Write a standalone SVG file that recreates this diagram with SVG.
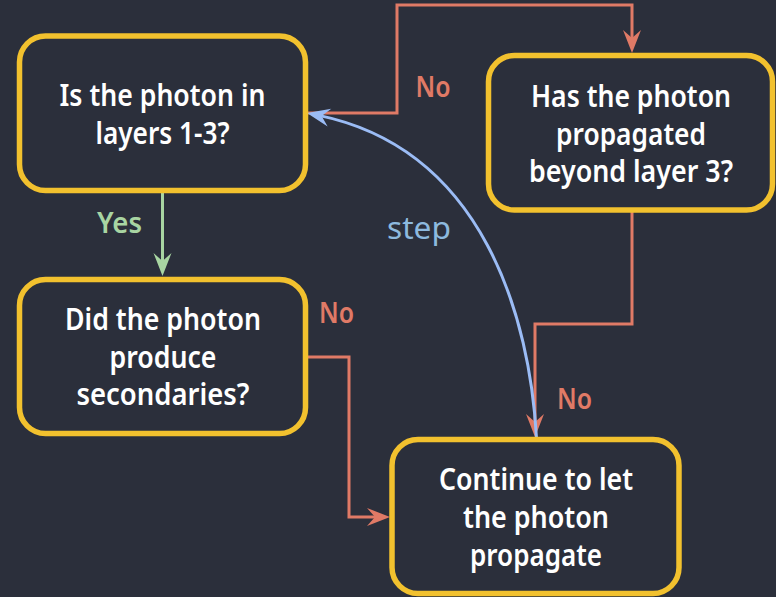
<svg xmlns="http://www.w3.org/2000/svg" width="776" height="597" viewBox="0 0 776 597">
<defs>
<style>
.bg{fill:#2b2f3b}
.box{fill:#2b2f3b;stroke:#f2c12e;stroke-width:5.5}
.t{font-family:"Noto Sans","Open Sans","DejaVu Sans",sans-serif;font-weight:600;font-size:30px;fill:#ffffff;text-anchor:middle}
.lbl{font-family:"Noto Sans","Open Sans","DejaVu Sans",sans-serif;font-weight:600;font-size:29px;text-anchor:middle}
.red{fill:none;stroke:#e07a66;stroke-width:3}
.green{fill:none;stroke:#a8d5a2;stroke-width:3}
.blue{fill:none;stroke:#9bbcf5;stroke-width:3}
</style>
<marker id="ar" viewBox="-24 -10 26 20" markerUnits="userSpaceOnUse" markerWidth="26" markerHeight="20" refX="-12" refY="0" orient="auto">
<path d="M0,0 L-23,-9 L-15,0 L-23,9 Z" fill="#e07a66"/>
</marker>
<marker id="ag" viewBox="-24 -10 26 20" markerUnits="userSpaceOnUse" markerWidth="26" markerHeight="20" refX="-12" refY="0" orient="auto">
<path d="M0,0 L-23,-9 L-15,0 L-23,9 Z" fill="#a8d5a2"/>
</marker>
<marker id="ab" viewBox="-24 -10 26 20" markerUnits="userSpaceOnUse" markerWidth="26" markerHeight="20" refX="-12" refY="0" orient="auto">
<path d="M0,0 L-23,-9 L-15,0 L-23,9 Z" fill="#9bbcf5"/>
</marker>
</defs>
<rect class="bg" x="0" y="0" width="776" height="597"/>

<g id="connectors">
<path class="red" d="M306,113 H397 V5 H632 V41" marker-end="url(#ar)"/>
<path class="red" d="M632,210 V324 H535 V425" marker-end="url(#ar)"/>
<path class="red" d="M306,357 H349 V517 H378" marker-end="url(#ar)"/>
<path class="green" d="M162.5,190 V264" marker-end="url(#ag)"/>
<path class="blue" d="M536.5,438 C530,320 485,150 318.7,115.4" marker-end="url(#ab)"/>
</g>

<g id="labels">
<text class="lbl" x="433" y="97" fill="#e07a66" textLength="35" lengthAdjust="spacingAndGlyphs">No</text>
<text class="lbl" x="119.5" y="233" fill="#a8d5a2" textLength="45" lengthAdjust="spacingAndGlyphs">Yes</text>
<text x="419" y="239" font-family="Noto Sans, Open Sans, DejaVu Sans, sans-serif" font-size="31" font-weight="400" fill="#8db9de" text-anchor="middle" textLength="64" lengthAdjust="spacingAndGlyphs">step</text>
<text class="lbl" x="336.5" y="323" fill="#e07a66" textLength="35" lengthAdjust="spacingAndGlyphs">No</text>
<text class="lbl" x="574.5" y="409" fill="#e07a66" textLength="35" lengthAdjust="spacingAndGlyphs">No</text>
</g>

<g id="n1">
<rect class="box" x="19.5" y="36" width="286" height="154.5" rx="26"/>
<text class="t" x="162.5" y="106" textLength="206" lengthAdjust="spacingAndGlyphs">Is the photon in</text>
<text class="t" x="162.5" y="144" textLength="134" lengthAdjust="spacingAndGlyphs">layers 1-3?</text>
</g>

<g id="n2">
<rect class="box" x="488.5" y="55.5" width="284" height="154.5" rx="26"/>
<text class="t" x="631" y="107" textLength="200" lengthAdjust="spacingAndGlyphs">Has the photon</text>
<text class="t" x="631" y="144.5" textLength="150" lengthAdjust="spacingAndGlyphs">propagated</text>
<text class="t" x="631" y="182" textLength="204" lengthAdjust="spacingAndGlyphs">beyond layer 3?</text>
</g>

<g id="n3">
<rect class="box" x="19.5" y="279.5" width="286" height="154" rx="26"/>
<text class="t" x="163" y="330" textLength="196" lengthAdjust="spacingAndGlyphs">Did the photon</text>
<text class="t" x="163" y="367.5" textLength="107" lengthAdjust="spacingAndGlyphs">produce</text>
<text class="t" x="163" y="405" textLength="173" lengthAdjust="spacingAndGlyphs">secondaries?</text>
</g>

<g id="n4">
<rect class="box" x="392" y="439.5" width="287" height="154" rx="26"/>
<text class="t" x="536" y="490" textLength="194" lengthAdjust="spacingAndGlyphs">Continue to let</text>
<text class="t" x="536" y="528" textLength="146" lengthAdjust="spacingAndGlyphs">the photon</text>
<text class="t" x="536" y="566" textLength="132" lengthAdjust="spacingAndGlyphs">propagate</text>
</g>
</svg>
